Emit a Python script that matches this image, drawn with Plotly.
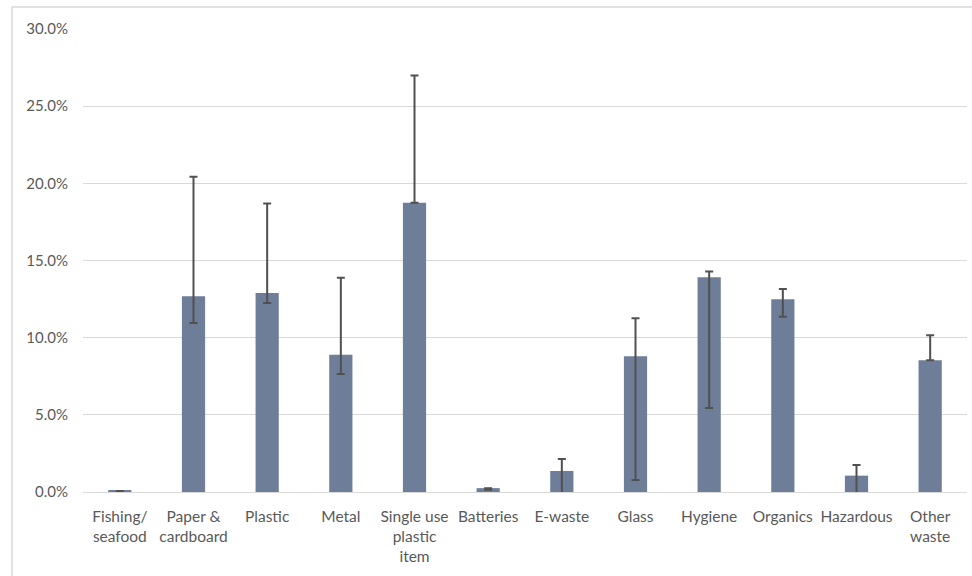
import plotly.graph_objects as go

# Share of collected waste by category (%), with asymmetric error bars
categories = [
    "Fishing/<br>seafood", "Paper &<br>cardboard", "Plastic", "Metal",
    "Single use<br>plastic<br>item", "Batteries", "E-waste", "Glass",
    "Hygiene", "Organics", "Hazardous", "Other<br>waste",
]
share = [0.07, 12.68, 12.90, 8.90, 18.75, 0.25, 1.36, 8.79, 13.91, 12.49, 1.06, 8.53]
err_plus = [0.0, 7.75, 5.79, 4.99, 8.23, 0.0, 0.78, 2.47, 0.37, 0.67, 0.69, 1.62]
err_minus = [0.0, 1.73, 0.65, 1.25, 0.0, 0.10, 2.00, 8.01, 8.47, 1.13, 1.60, 0.0]
y_ticks = [0, 5, 10, 15, 20, 25, 30]

FONT = "Lato, 'Open Sans', sans-serif"
TEXT_GREY = "#595959"
GRID_GREY = "#d9d9d9"

fig = go.Figure(
    go.Bar(
        x=categories,
        y=share,
        marker=dict(color="#6e7e99", line=dict(color="#6e7e99", width=0)),
        error_y=dict(
            type="data",
            symmetric=False,
            array=err_plus,
            arrayminus=err_minus,
            color="#505050",
            thickness=2,
            width=4,
        ),
        cliponaxis=True,
    )
)

fig.update_layout(
    width=972,
    height=576,
    margin=dict(l=83, r=5, t=29, b=84),
    paper_bgcolor="white",
    plot_bgcolor="white",
    bargap=0.685,
    showlegend=False,
    font=dict(family=FONT, size=15, color=TEXT_GREY),
    shapes=[
        dict(
            type="rect", xref="paper", yref="paper",
            x0=-0.0803, x1=1.02, y0=-0.25, y1=1.0475,
            line=dict(color=GRID_GREY, width=1.5),
            layer="below",
        )
    ],
)

fig.update_yaxes(
    range=[0, 30],
    tickvals=y_ticks,
    ticktext=[f"{v:.1f}%" for v in y_ticks],
    showgrid=True,
    gridcolor=GRID_GREY,
    gridwidth=1.3,
    zeroline=True,
    zerolinecolor=GRID_GREY,
    zerolinewidth=1.3,
    showline=False,
    ticks="",
    ticklabelstandoff=14,
    tickfont=dict(family=FONT, size=15, color=TEXT_GREY),
)

fig.update_xaxes(
    showgrid=False,
    showline=False,
    ticks="",
    tickangle=0,
    ticklabelstandoff=13,
    tickfont=dict(family=FONT, size=15.5, color=TEXT_GREY),
)

fig.write_html("out.html")
